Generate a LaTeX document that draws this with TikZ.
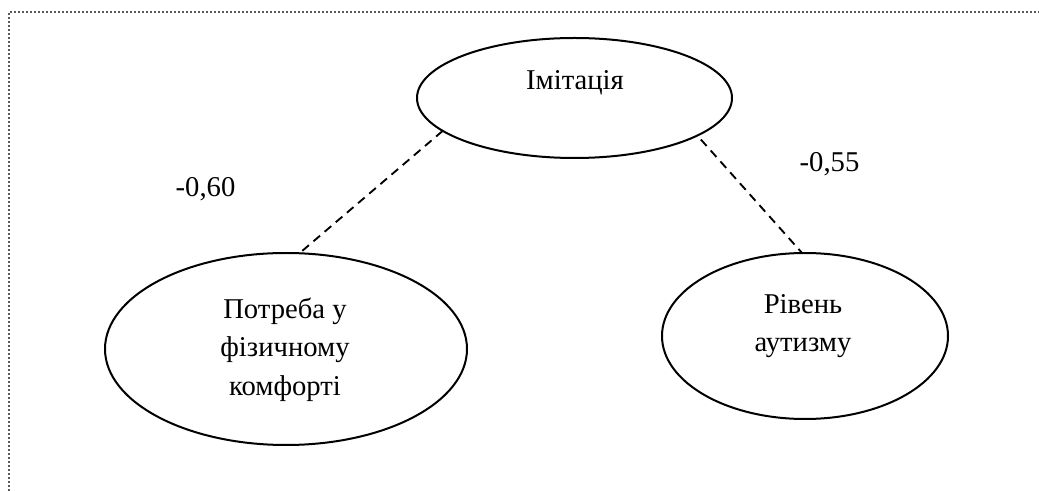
\documentclass[tikz,border=0pt]{standalone}
\usepackage{fontspec}
\setmainfont{Liberation Serif}
\usetikzlibrary{shapes.geometric}
\begin{document}
\begin{tikzpicture}[x=0.75pt,y=-0.75pt,
  bubble/.style={ellipse,draw=black,line width=1.5pt,inner sep=0pt,outer sep=0pt},
  caption/.style={font=\fontsize{21.5}{29}\selectfont,inner sep=0pt,align=center},
  link/.style={draw=black,line width=1.4pt,dash pattern=on 6.5pt off 4.5pt},
  frame/.style={draw=black!65,line width=1.5pt,dash pattern=on 1.5pt off 1.5pt}]
  \useasboundingbox (0,0) rectangle (1039,491);
  % dotted frame along the top and left edges
  \draw[frame] (9,491) -- (9,12) -- (1039,12);

  % ellipses (sizes given in pt: 1 unit = 0.75pt)
  \node[bubble,minimum width=236.25pt,minimum height=90pt] (imit) at (574.5,98) {};
  \node[bubble,minimum width=271.5pt,minimum height=144pt] (need) at (286,349) {};
  \node[bubble,minimum width=214.5pt,minimum height=124.5pt] (aut) at (805,336) {};

  % texts inside the ellipses
  \node[caption,anchor=base] (timit) at (575,90) {Імітація};
  \node[caption] (tneed) at (285,349.5) {Потреба у\\фізичному\\комфорті};
  \node[caption] (taut) at (803,326) {Рівень\\аутизму};

  % correlation links
  \draw[link] (imit.194.8) -- (need.82.3);
  \draw[link,shorten <=4pt] (imit.343.6) -- (aut.92);

  % coefficients
  \node[caption,anchor=base] (c1) at (205.5,197) {-0,60};
  \node[caption,anchor=base] (c2) at (829.5,172) {-0,55};
\end{tikzpicture}
\end{document}
